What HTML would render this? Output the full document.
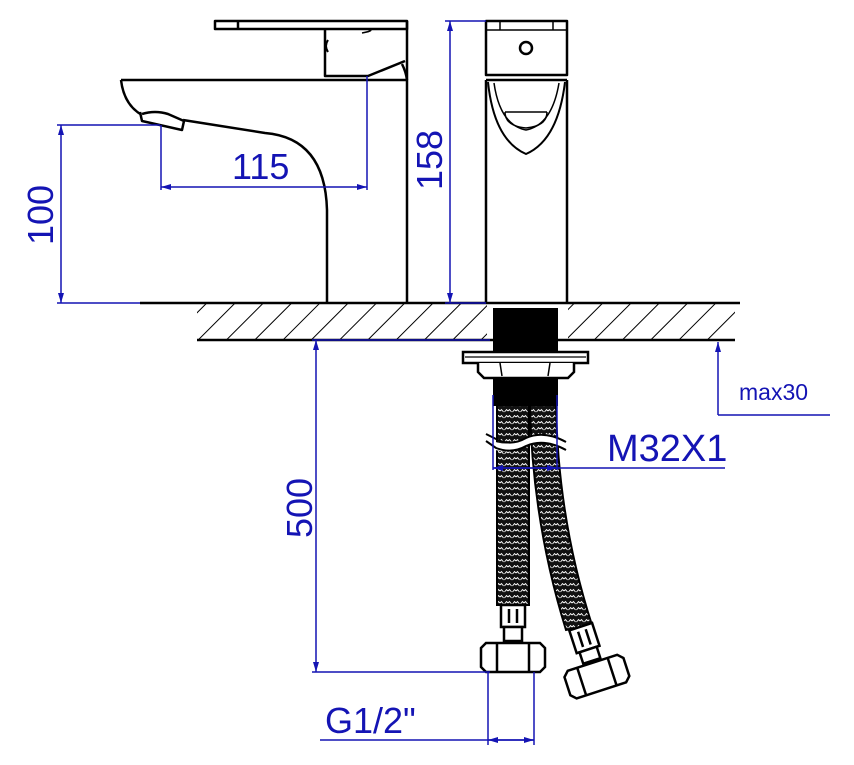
<!DOCTYPE html>
<html><head><meta charset="utf-8"><style>
html,body{margin:0;padding:0;background:#fff}
svg{display:block}
text{font-family:"Liberation Sans",Arial,sans-serif;fill:#1414b4}
</style></head><body>
<svg width="854" height="765" viewBox="0 0 854 765" xmlns="http://www.w3.org/2000/svg">
<defs>
<pattern id="hatch" width="20" height="20" patternUnits="userSpaceOnUse" patternTransform="rotate(45)">
<line x1="0" y1="0" x2="0" y2="20" stroke="#000" stroke-width="2"/>
</pattern>
<pattern id="braid" width="8" height="6" patternUnits="userSpaceOnUse">
<rect width="8" height="6" fill="#111"/>
<path d="M0.5,4 L2.5,1.5 L4,3 M4,3 L5.5,1.5 L7.5,4" stroke="#fff" stroke-width="0.9" fill="none"/>
</pattern>
<marker id="ar" viewBox="0 0 10 6" refX="10" refY="3" markerWidth="12" markerHeight="6" orient="auto-start-reverse" markerUnits="userSpaceOnUse"><path d="M0,0 L10,3 L0,6z" fill="#1414b4"/></marker>
</defs>

<rect x="197" y="304" width="538" height="36" fill="url(#hatch)"/>
<rect x="487" y="304" width="81" height="36" fill="#fff"/>
<line x1="140" y1="303" x2="740" y2="303" stroke="#000" stroke-width="2.5"/>
<line x1="197" y1="340" x2="735" y2="340" stroke="#000" stroke-width="2.5"/>

<g fill="none" stroke="#000" stroke-width="2.5" stroke-linejoin="round">
<rect x="215" y="21" width="192" height="8" fill="#fff"/>
<line x1="238" y1="21" x2="238" y2="29"/>
<path d="M325,29 L325,76 L368,76 L405,61"/>
<path d="M325,29 L365,29 Q378,30 362,33" stroke-width="1.5"/>
<path d="M328,40 Q324,46 328,52" stroke-width="2"/>
<path d="M402,64 Q406,72 407,80"/>
<path d="M407,21 L407,303"/>
<path d="M327,303 L327,210 Q325,138 265,133 L183,120"/>
<path d="M121,80 L407,80"/>
<path d="M121,80 Q124,105 142,115"/>
<path d="M140,112 L142,121 L182,130 L184,121 L168,114 Q155,110 142,114" fill="#fff"/>
<rect x="486" y="21" width="81" height="54" fill="#fff"/>
<line x1="486" y1="30" x2="567" y2="30" stroke-width="1.5"/>
<line x1="500" y1="21" x2="500" y2="30" stroke-width="1.5"/>
<line x1="553" y1="21" x2="553" y2="30" stroke-width="1.5"/>
<circle cx="526" cy="48" r="6"/>
<path d="M486,80 L486,303 M567,80 L567,303 M486,80 L567,80"/>
<path d="M488,82 Q494,140 526,154 Q558,140 565,82" stroke-width="2"/>
<path d="M494,83 Q500,125 526,130 Q552,125 559,83" stroke-width="1.5"/>
<path d="M505,112 L547,112 M505,112 Q505,126 526,128 Q547,126 547,112" stroke-width="1.5"/>
</g>

<rect x="493" y="308" width="65" height="44" fill="#000"/>
<rect x="463" y="352" width="125" height="11" fill="#fff" stroke="#000" stroke-width="2.5"/>
<line x1="465" y1="357" x2="586" y2="357" stroke="#000" stroke-width="1.2"/>
<path d="M478,363 L478,372 L484,378 L568,378 L574,372 L574,363" fill="#fff" stroke="#000" stroke-width="2.5"/>
<path d="M500,363 L502,376 M550,363 L548,376" stroke="#000" stroke-width="1.5"/>
<rect x="493" y="378" width="65" height="28" fill="#000"/>
<rect x="497" y="405" width="32" height="200" fill="url(#braid)" stroke="#000" stroke-width="2"/>
<path d="M530,405 L556,405 Q558,520 592,625 L566,630 Q532,520 530,405z" fill="url(#braid)" stroke="#000" stroke-width="2"/>
<path d="M490,440 Q508,448 526,438 Q544,430 560,440 L560,448 Q544,438 526,446 Q508,456 490,448z" fill="#fff"/>
<path d="M486,434 L498,440 Q512,446 526,438 Q544,430 566,442 M486,441 L496,448 Q512,454 526,446 Q544,438 566,450" stroke="#000" stroke-width="2" fill="none"/>
<g fill="#fff" stroke="#000" stroke-width="2.5">
<rect x="501" y="605" width="24" height="22"/>
<line x1="509" y1="609" x2="509" y2="623"/><line x1="517" y1="609" x2="517" y2="623"/>
<rect x="504" y="627" width="18" height="14"/>
<path d="M486,643 L540,643 L545,648 L545,667 L540,672 L486,672 L481,667 L481,648z"/>
<line x1="497" y1="643" x2="497" y2="672"/><line x1="529" y1="643" x2="529" y2="672"/>
</g>
<g fill="#fff" stroke="#000" stroke-width="2.5" transform="translate(585,640) rotate(-18)">
<rect x="-12" y="-14" width="24" height="24"/>
<line x1="-4" y1="-10" x2="-4" y2="6"/><line x1="4" y1="-10" x2="4" y2="6"/>
<rect x="-9" y="10" width="18" height="12"/>
<path d="M-26,24 L26,24 L31,29 L31,48 L26,53 L-26,53 L-31,48 L-31,29z"/>
<line x1="-16" y1="24" x2="-16" y2="53"/><line x1="16" y1="24" x2="16" y2="53"/>
</g>

<g stroke="#1414b4" stroke-width="1.5" fill="none">
<line x1="57" y1="125" x2="160" y2="125"/><line x1="57" y1="303" x2="140" y2="303"/>
<line x1="61" y1="125" x2="61" y2="303" marker-start="url(#ar)" marker-end="url(#ar)"/>
<line x1="161" y1="125" x2="161" y2="190"/><line x1="367" y1="76" x2="367" y2="190"/>
<line x1="161" y1="187" x2="367" y2="187" marker-start="url(#ar)" marker-end="url(#ar)"/>
<line x1="445" y1="21" x2="486" y2="21"/><line x1="445" y1="303" x2="486" y2="303"/>
<line x1="450" y1="21" x2="450" y2="303" marker-start="url(#ar)" marker-end="url(#ar)"/>
<line x1="312" y1="340" x2="490" y2="340"/>
<line x1="312" y1="672" x2="490" y2="672"/>
<line x1="316" y1="340" x2="316" y2="672" marker-start="url(#ar)" marker-end="url(#ar)"/>
<line x1="718" y1="342" x2="718" y2="415" marker-start="url(#ar)"/>
<line x1="718" y1="415" x2="830" y2="415"/>
<line x1="493" y1="395" x2="493" y2="470"/><line x1="557" y1="395" x2="557" y2="470"/>
<line x1="493" y1="468" x2="725" y2="468"/>
<line x1="493" y1="468" x2="557" y2="468" marker-start="url(#ar)" marker-end="url(#ar)"/>
<line x1="488" y1="672" x2="488" y2="745"/><line x1="534" y1="672" x2="534" y2="745"/>
<line x1="320" y1="740" x2="534" y2="740"/>
<line x1="488" y1="740" x2="534" y2="740" marker-start="url(#ar)" marker-end="url(#ar)"/>
</g>
<text x="232" y="179" font-size="36">115</text>
<text transform="translate(53,215) rotate(-90)" font-size="36" text-anchor="middle">100</text>
<text transform="translate(442,160) rotate(-90)" font-size="36" text-anchor="middle">158</text>
<text transform="translate(312,508) rotate(-90)" font-size="36" text-anchor="middle">500</text>
<text x="607" y="461" font-size="38">M32X1</text>
<text x="739" y="400" font-size="23">max30</text>
<text x="325" y="733" font-size="36">G1/2"</text>
</svg>
</body></html>
